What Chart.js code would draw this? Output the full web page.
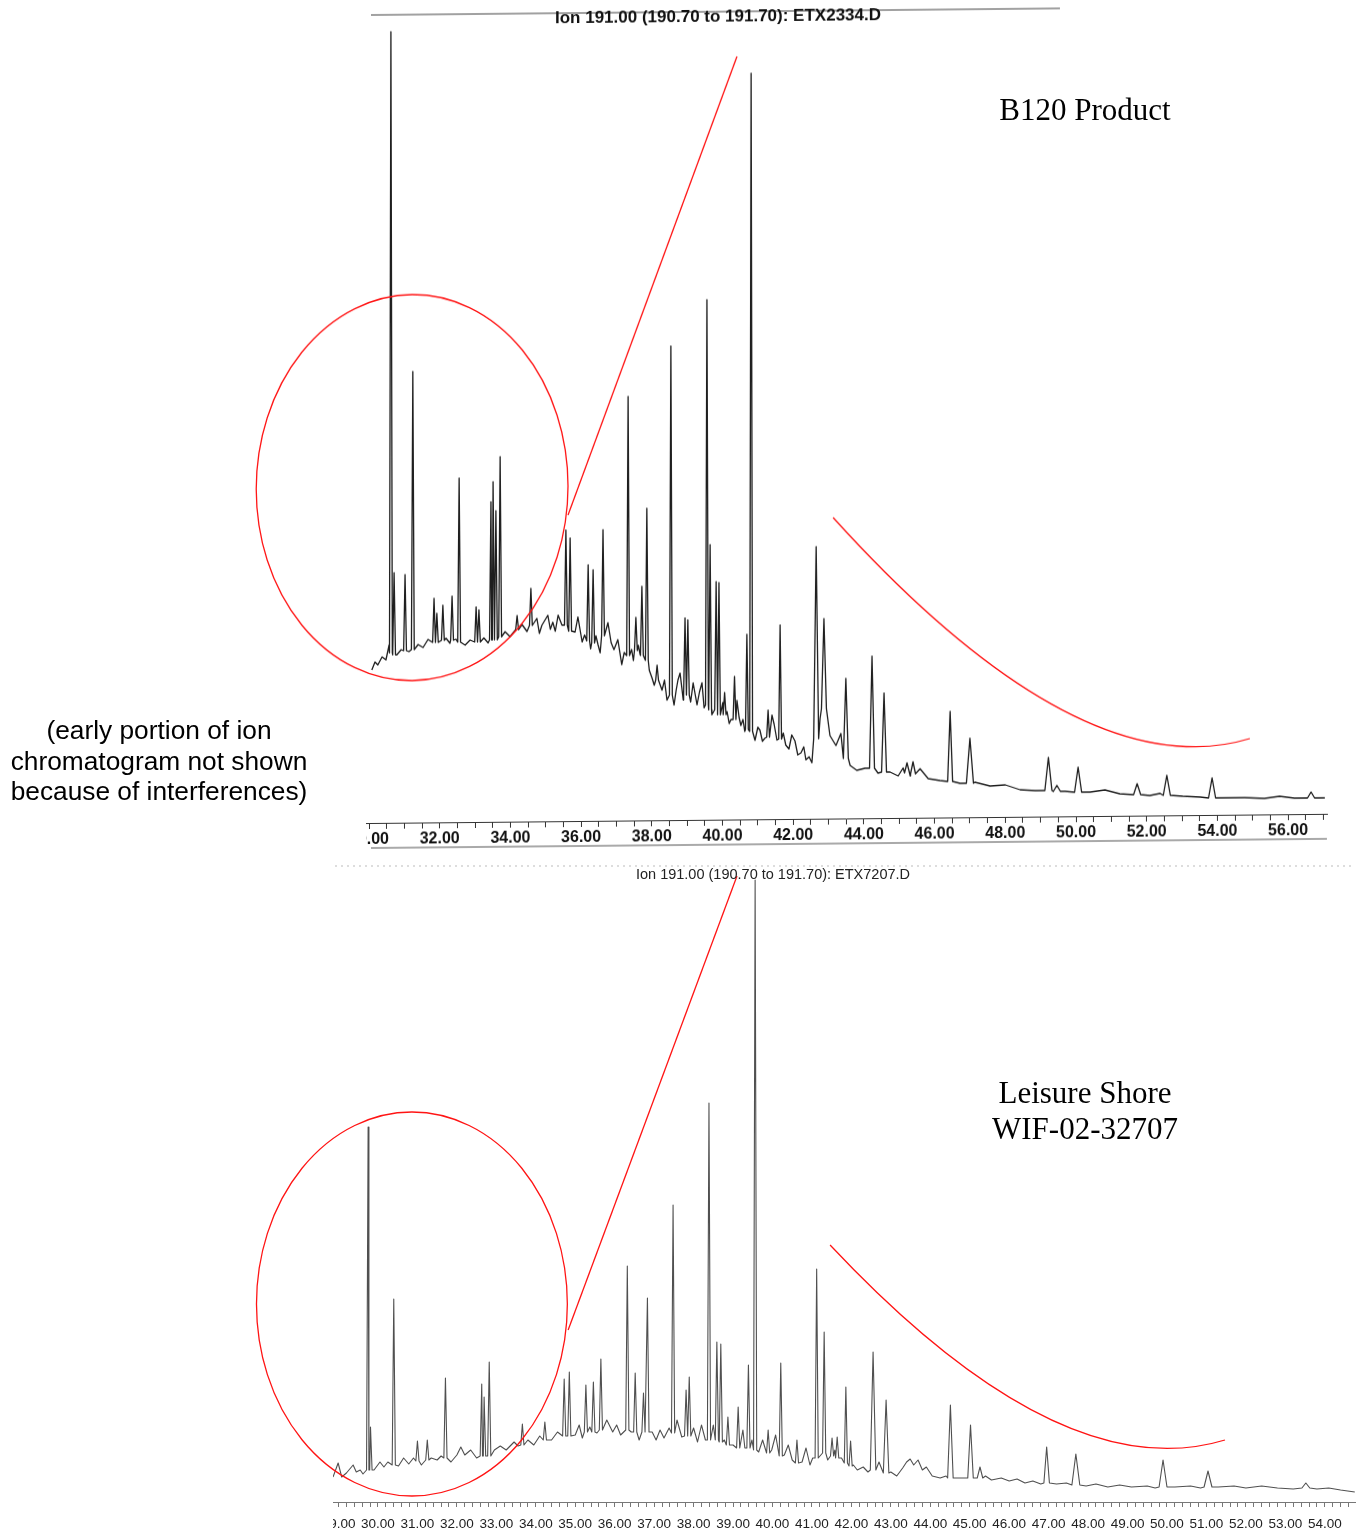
<!DOCTYPE html>
<html>
<head>
<meta charset="utf-8">
<script src="https://cdn.jsdelivr.net/npm/chart.js@4.4.0/dist/chart.umd.min.js"></script>
<style>
html,body{margin:0;padding:0;background:#fff;}
body{width:1367px;height:1537px;position:relative;overflow:hidden;font-family:'Liberation Sans',Arial,sans-serif;color:#000;}
#topWrap{position:absolute;left:0;top:0;width:1367px;height:860px;transform:skewY(-0.55deg);transform-origin:50% 50%;}
#botWrap{position:absolute;left:0;top:860px;width:1367px;height:677px;}
canvas{position:absolute;left:0;top:0;}
.ttl1{position:absolute;left:468px;width:500px;top:7px;text-align:center;font:bold 17px/20px 'Liberation Sans',Arial,sans-serif;color:#111;white-space:nowrap;}
.ttl2{position:absolute;left:523px;width:500px;top:5px;text-align:center;font:14.5px/18px 'Liberation Sans',Arial,sans-serif;color:#222;white-space:nowrap;}
.serif{position:absolute;text-align:center;font-family:'Liberation Serif','Times New Roman',serif;font-size:31px;line-height:36px;color:#000;white-space:nowrap;}
.note{position:absolute;left:0;width:318px;top:715px;text-align:center;font-size:26.3px;line-height:30.5px;color:#000;white-space:nowrap;}
</style>
</head>
<body>
<div id="topWrap">
  <canvas id="c1" width="1367" height="860" style="width:1367px;height:860px"></canvas>
  <div class="ttl1">Ion 191.00 (190.70 to 191.70): ETX2334.D</div>
</div>
<div id="botWrap">
  <canvas id="c2" width="1367" height="677" style="width:1367px;height:677px"></canvas>
  <div class="ttl2">Ion 191.00 (190.70 to 191.70): ETX7207.D</div>
</div>
<div class="serif" style="left:885px;width:400px;top:92px;">B120 Product</div>
<div class="serif" style="left:885px;width:400px;top:1075px;">Leisure Shore<br>WIF-02-32707</div>
<div class="note">(early portion of ion<br>chromatogram not shown<br>because of interferences)</div>

<script>
// ---------------- DATA (retention time in minutes, abundance in arbitrary units) ----------------
// Top chromatogram: B120 Product (ETX2334.D)
const topBaseTimes = [30.08,30.17,30.25,30.37,30.48,30.57,30.79,30.91,31.13,31.39,
  31.53,31.67,32.18,32.29,32.46,32.72,32.86,33.25,33.37,33.85,
  33.99,34.33,34.47,34.75,34.82,34.89,35.06,35.13,35.20,35.27,
  35.35,35.46,35.83,35.91,36.03,36.10,36.27,36.42,36.48,36.54,
  36.76,36.85,36.93,37.04,37.15,37.22,37.43,37.48,37.62,37.67,
  37.93,38.01,38.07,38.29,38.36,38.43,38.63,38.69,38.74,38.80,
  38.89,39.10,39.17,39.28,39.35,39.42,39.48,39.70,40.01,40.13,
  40.19,40.24,40.41,40.47,40.52,40.58,40.63,40.92,41.00,41.06,
  41.13,41.20,41.40,41.46,41.54,41.72,41.79,41.88,41.96,42.05,
  42.13,42.22,42.30,42.36,42.45,42.53,42.76,43.04,43.21,43.35,
  43.61,43.80,44.03,44.40,44.74,44.97,45.11,45.31,45.59,45.82,
  46.15,46.72,47.14,47.57,48.00,48.42,48.85,49.69,50.40,50.82,
  51.24,52.09,52.38,53.02,53.51,54.20,54.77,55.33,55.76,56.18,
  57.04];
const topBaseValues = [153,161,158,166,163,178,168,173,171,178,
  175,183,184,179,183,177,182,184,179,190,
  185,197,190,203,188,196,206,192,199,190,
  206,196,189,204,179,186,172,185,176,168,
  198,178,171,181,156,168,171,160,175,166,
  150,142,135,130,140,120,115,130,140,147,
  120,118,137,115,128,137,112,105,117,108,
  96,100,119,102,94,100,88,79,92,89,
  78,81,104,95,79,86,74,70,84,78,
  64,66,72,59,62,56,100,83,73,85,
  53,48,50,45,46,42,50,42,49,39,
  37,34,35,31,32,27,26,25,24,26,
  22,20,22,19,18,17,17,16,18,16,
  16];
const topPeakTimes = [30.62,30.71,31.02,31.24,31.84,31.92,32.09,32.35,32.55,33.03,33.11,33.45,33.51,33.59,33.71,34.19,34.58,35.57,35.69,36.20,
  36.34,36.62,37.33,37.55,37.72,37.86,38.15,38.54,38.94,39.02,39.56,39.65,39.82,39.90,40.06,40.34,40.69,40.81,41.29,41.63,
  42.65,42.87,43.49,44.23,44.57,45.22,45.39,46.44,47.00,49.22,49.46,50.06,51.73,52.57,53.85,56.65];
const topPeakHeights = [791,250,248,451,224,209,217,226,344,215,212,320,340,311,365,206,233,291,283,256,
  251,291,424,203,234,312,155,474,202,200,520,275,238,237,127,143,185,746,109,194,
  272,200,140,162,125,55,56,106,79,59,31,49,32,40,37,22];
const topPeakFeet = [170,168,172,173,180,180,182,182,180,180,180,182,182,182,185,192,196,196,190,180,
  178,185,165,170,165,160,140,125,125,125,115,110,110,105,105,100,90,88,82,80,
  80,110,60,50,46,45,44,36,34,26,25,24,21,20,17,16];
const topTickLabels = ['30.00','32.00','34.00','36.00','38.00','40.00','42.00','44.00','46.00','48.00','50.00','52.00','54.00','56.00'];

// Bottom chromatogram: Leisure Shore WIF-02-32707 (ETX7207.D)
const botBaseTimes = [28.86,28.99,29.08,29.20,29.37,29.45,29.55,29.62,29.90,30.05,
  30.15,30.25,30.52,30.65,30.78,30.90,31.10,31.35,31.50,31.60,
  31.85,32.00,32.10,32.20,32.35,32.50,32.95,33.10,33.25,33.45,
  33.55,33.80,33.95,34.10,34.40,34.55,35.00,35.10,35.18,35.37,
  35.55,35.80,35.95,36.05,36.15,36.42,36.62,36.95,37.05,37.15,
  37.25,37.38,37.58,37.70,38.00,38.10,38.20,38.30,38.50,38.78,
  39.00,39.25,39.30,39.48,39.65,39.75,39.98,40.08,40.30,40.40,
  40.50,40.75,40.85,40.95,41.02,41.40,41.58,41.75,42.05,42.15,
  42.30,42.42,42.70,43.00,43.15,43.30,43.40,43.49,43.58,43.69,
  43.80,43.90,44.05,44.25,44.40,44.70,44.85,45.40,45.55,45.80,
  46.00,46.20,46.40,46.60,46.80,47.20,47.45,47.95,48.20,48.50,
  48.80,49.10,49.50,49.70,50.20,50.60,50.85,51.30,51.70,52.00,
  52.40,52.80,53.20,53.80,54.10,54.40,54.76];
const botBaseValues = [31,45,31,35,43,36,38,34,38,46,
  41,46,42,50,44,50,43,50,48,52,
  46,53,61,53,58,50,58,62,58,66,
  62,68,63,72,68,76,73,83,70,81,
  75,88,76,83,73,76,68,76,68,78,
  70,80,88,71,80,66,83,68,83,68,
  63,78,60,68,56,68,58,73,53,63,
  48,46,60,43,50,48,58,50,43,38,
  41,36,46,36,32,40,46,49,43,48,
  38,41,32,30,32,30,30,32,28,30,
  27,29,25,27,24,24,25,22,24,21,
  23,21,22,20,21,22,20,21,22,20,
  22,20,19,19,20,18,16];
const botPeakTimes = [29.75,29.81,30.40,31.00,31.25,31.71,32.63,32.69,32.82,33.66,
  34.23,34.72,34.85,35.27,35.46,35.65,36.32,36.52,36.73,36.83,
  37.48,37.81,37.89,38.39,38.59,38.69,38.87,39.13,39.39,39.56,
  39.89,40.21,40.62,41.12,41.31,41.51,41.64,41.86,41.98,42.55,
  42.88,44.51,45.02,45.26,46.95,47.69,49.90,51.04,53.52];
const botPeakHeights = [381,81,209,67,68,130,124,111,146,84,
  86,129,136,123,126,149,242,135,115,210,
  303,118,131,405,166,164,91,101,143,628,
  78,145,68,239,176,70,71,121,67,156,
  108,103,83,41,61,54,48,37,25];
const botPeakFeet = [38,38,43,47,48,50,52,52,52,63,
  68,72,72,76,76,78,78,76,76,76,
  75,72,72,68,68,66,63,60,60,58,
  55,52,45,50,55,52,50,45,42,38,
  35,30,30,30,25,23,21,21,20];
const botTickLabels = ['29.00','30.00','31.00','32.00','33.00','34.00','35.00','36.00','37.00','38.00','39.00','40.00','41.00',
  '42.00','43.00','44.00','45.00','46.00','47.00','48.00','49.00','50.00','51.00','52.00','53.00','54.00'];

// Red hand-drawn annotations, in data units: [time, abundance, halfWidthMin, halfHeight]
const topEllipse = [31.22, 335, 4.41, 193];
const topLine = [35.63, 306, 40.41, 763];
const topCurve = [43.13, 301, 50.11, 26, 54.92, 76];
const botEllipse = [30.86, 204, 3.94, 192];
const botLine = [34.82, 178, 39.10, 632];
const botCurve = [41.46, 263, 47.29, 18, 51.47, 68];

// ---------------- BUILD ----------------
function halfWidth(t){ return t < 42 ? 0.04 : (t < 47 ? 0.07 : 0.1); }
function buildTrace(bt, bv, pt, ph, pf){
  const pts = [];
  bt.forEach((t,i)=>{
    const inside = pt.some(p => Math.abs(p - t) < halfWidth(p));
    if(!inside) pts.push({x:t, y:bv[i]});
  });
  pt.forEach((t,i)=>{
    const w = halfWidth(t);
    pts.push({x:t-w, y:pf[i]}, {x:t, y:ph[i]}, {x:t+w, y:pf[i]});
  });
  pts.sort((a,b)=>a.x-b.x);
  return pts;
}

const decor = {
  id:'decor',
  beforeDraw(chart, args, o){
    const c = chart.ctx; c.save(); c.beginPath();
    c.rect(o.clipLeft, 0, chart.width - o.clipLeft, chart.height); c.clip();
  },
  afterDatasetsDraw(chart){ chart.ctx.restore(); },
  afterDraw(chart, args, o){
    const c = chart.ctx, xs = chart.scales.x, ys = chart.scales.y, ca = chart.chartArea;
    const X = v => xs.getPixelForValue(v), Y = v => ys.getPixelForValue(v);
    c.save();
    (o.frameLines || []).forEach(f=>{
      c.beginPath(); c.strokeStyle = f.color; c.lineWidth = f.width;
      c.setLineDash(f.dash || []);
      c.moveTo(f.x1, ca[f.ref] + f.dy); c.lineTo(f.x2, ca[f.ref] + f.dy); c.stroke();
    });
    c.setLineDash([]);
    c.strokeStyle = '#ff1414'; c.lineWidth = 1.3;
    const e = o.ellipse;
    const cx = X(e[0]), cy = Y(e[1]);
    c.beginPath(); c.ellipse(cx, cy, X(e[0]+e[2]) - cx, cy - Y(e[1]+e[3]), 0, 0, Math.PI*2); c.stroke();
    const l = o.line;
    c.beginPath(); c.moveTo(X(l[0]), Y(l[1])); c.lineTo(X(l[2]), Y(l[3])); c.stroke();
    const q = o.curve;
    c.beginPath(); c.moveTo(X(q[0]), Y(q[1])); c.quadraticCurveTo(X(q[2]), Y(q[3]), X(q[4]), Y(q[5])); c.stroke();
    c.restore();
  }
};

function makeChart(id, cfg){
  return new Chart(document.getElementById(id), {
    type:'line',
    data:{datasets:[{data:cfg.points, parsing:false, borderColor:cfg.lineColor, borderWidth:cfg.lineWidth,
      pointRadius:0, tension:0, fill:false, borderJoinStyle:'round'}]},
    options:{
      responsive:false, animation:false, devicePixelRatio:1,
      layout:{padding:cfg.padding},
      plugins:{legend:{display:false}, tooltip:{enabled:false}, title:{display:false}, decor:cfg.decor},
      scales:{
        x:{type:'linear', min:cfg.xmin, max:cfg.xmax,
          afterFit:s=>{ s.height = cfg.axisHeight; },
          border:{display:true, color:cfg.axisColor, width:1},
          grid:{display:true, drawOnChartArea:false, drawTicks:true, tickLength:cfg.tickLength, color:cfg.axisColor, lineWidth:1},
          ticks:{stepSize:cfg.step, includeBounds:false, autoSkip:false, maxRotation:0, minRotation:0, padding:cfg.tickPad,
            color:cfg.tickColor, font:cfg.font,
            callback:(v)=>{
              const k = (v - cfg.firstLabel)/cfg.labelEvery, r = Math.round(k);
              return (Math.abs(k - r) < 1e-6 && r >= 0 && r < cfg.labels.length) ? cfg.labels[r] : '';
            }}},
        y:{display:false, min:cfg.ymin, max:cfg.ymax}
      }
    },
    plugins:[decor]
  });
}

makeChart('c1', {
  points: buildTrace(topBaseTimes, topBaseValues, topPeakTimes, topPeakHeights, topPeakFeet),
  lineColor:'#1e1e1e', lineWidth:1.3,
  padding:{left:361.93, right:40, top:18, bottom:10},
  axisHeight:30, xmin:29.8, xmax:57.10, ymin:0, ymax:802,
  axisColor:'#333', tickLength:6, tickPad:1, step:0.5, tickColor:'#111',
  font:{family:"'Liberation Sans', Arial, sans-serif", size:16, weight:'bold'},
  firstLabel:30, labelEvery:2, labels:topTickLabels,
  decor:{clipLeft:366, ellipse:topEllipse, line:topLine, curve:topCurve,
    frameLines:[{ref:'top', dy:-6, x1:371, x2:1060, color:'#444', width:1},
                {ref:'bottom', dy:25, x1:371, x2:1327, color:'#555', width:1}]}
});

makeChart('c2', {
  points: buildTrace(botBaseTimes, botBaseValues, botPeakTimes, botPeakHeights, botPeakFeet),
  lineColor:'#505050', lineWidth:1.1,
  padding:{left:326.7, right:12, top:12, bottom:5},
  axisHeight:30, xmin:28.7, xmax:54.766, ymin:6, ymax:636,
  axisColor:'#777', tickLength:5, tickPad:9, step:0.2, tickColor:'#222',
  font:{family:"'Liberation Sans', Arial, sans-serif", size:13.5},
  firstLabel:29, labelEvery:1, labels:botTickLabels,
  decor:{clipLeft:333, ellipse:botEllipse, line:botLine, curve:botCurve,
    frameLines:[{ref:'top', dy:-6, x1:335, x2:1355, color:'#bbb', width:1, dash:[2,4]}]}
});
</script>
</body>
</html>
